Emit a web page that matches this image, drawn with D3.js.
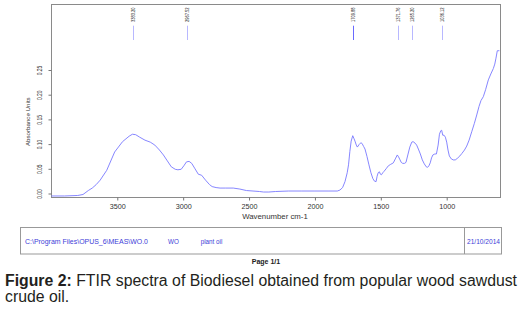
<!DOCTYPE html>
<html><head><meta charset="utf-8">
<script src="https://cdn.jsdelivr.net/npm/d3@7"></script>
<style>html,body{margin:0;padding:0;background:#fff;}svg{display:block;}</style>
</head><body>
<svg id="c" width="520" height="309"></svg>
<script>
const wavenumbers = [4000,3900,3800,3760,3720,3690,3660,3630,3580,3520,3460,3410,3385,3360,3330,3290,3250,3215,3180,3150,3120,3090,3060,3040,3015,2995,2975,2955,2935,2910,2885,2860,2830,2800,2780,2750,2720,2680,2620,2570,2520,2470,2420,2390,2350,2300,2200,2100,2000,1900,1830,1810,1790,1772,1755,1745,1735,1725,1713,1705,1696,1686,1678,1665,1650,1640,1630,1620,1605,1590,1575,1560,1548,1536,1528,1520,1511,1503,1495,1485,1475,1460,1443,1425,1405,1390,1375,1365,1354,1345,1334,1320,1309,1295,1280,1265,1255,1240,1228,1215,1200,1185,1170,1155,1145,1135,1125,1115,1105,1090,1078,1065,1055,1045,1038,1030,1020,1010,1000,990,980,965,950,935,920,900,885,865,848,830,810,790,772,755,740,722,705,684,665,646,635,626,616,600];
const absorbance = [-0.005,-0.005,-0.004,-0.002,0.006,0.011,0.018,0.027,0.047,0.084,0.105,0.116,0.120,0.119,0.114,0.108,0.104,0.098,0.088,0.078,0.066,0.054,0.049,0.048,0.049,0.056,0.064,0.065,0.061,0.050,0.039,0.037,0.027,0.018,0.014,0.012,0.011,0.011,0.011,0.009,0.006,0.005,0.004,0.003,0.003,0.004,0.005,0.005,0.005,0.005,0.005,0.007,0.012,0.024,0.042,0.058,0.085,0.106,0.117,0.112,0.106,0.098,0.094,0.099,0.103,0.100,0.095,0.090,0.075,0.058,0.042,0.030,0.025,0.024,0.035,0.042,0.044,0.039,0.038,0.042,0.045,0.050,0.056,0.059,0.062,0.070,0.078,0.074,0.068,0.063,0.061,0.061,0.063,0.078,0.094,0.104,0.105,0.102,0.098,0.090,0.080,0.068,0.060,0.054,0.053,0.056,0.062,0.072,0.078,0.080,0.080,0.098,0.120,0.127,0.128,0.118,0.118,0.114,0.104,0.088,0.076,0.070,0.068,0.068,0.071,0.076,0.081,0.088,0.096,0.108,0.125,0.142,0.159,0.176,0.188,0.196,0.210,0.230,0.242,0.253,0.262,0.274,0.289,0.289];
const xTicks = [3500,3000,2500,2000,1500,1000];
const yTicks = [0,0.05,0.10,0.15,0.20,0.25];
const peakPositions = [3383.20,2967.52,1709.88,1371.76,1265.20,1036.12];
const peakLabels = ["3383.20","2967.52","1709.88","1371.76","1265.20","1036.12"];
const peakStrong = [false,false,true,false,false,false];
const xLabel = "Wavenumber cm-1";
const yLabel = "Absorbance Units";
const footerPath = "C:\\Program Files\\OPUS_6\\MEAS\\WO.0";
const footerName = "WO";
const footerDesc = "plant oil";
const footerDate = "21/10/2014";
const pageText = "Page 1/1";
const captionBold = "Figure 2:";
const captionLine1 = "FTIR spectra of Biodiesel obtained from popular wood sawdust";
const captionLine2 = "crude oil.";

const svg = d3.select("#c");
const FONT = "'Liberation Sans', Arial, sans-serif";
const frame = {x0:51, x1:500, y0:4, y1:197};
const x = d3.scaleLinear().domain([4000,600]).range([51.4,499.4]);
const y = d3.scaleLinear().domain([0,0.25]).range([193.5,70]);

// frame
svg.append("rect").attr("x",frame.x0+0.5).attr("y",frame.y0+0.5)
  .attr("width",frame.x1-frame.x0).attr("height",frame.y1-frame.y0)
  .attr("fill","none").attr("stroke","#8a8a8a").attr("stroke-width",1);

// x axis
const gx = svg.append("g").attr("transform",`translate(0,${frame.y1+0.5})`)
  .call(d3.axisBottom(x).tickValues(xTicks).tickSize(3).tickPadding(4).tickFormat(d3.format("d")));
gx.select(".domain").remove();
gx.selectAll("line").attr("stroke","#777");
gx.selectAll("text").attr("font-family",FONT).attr("font-size",7).attr("fill","#333")
  .attr("textLength",16).attr("lengthAdjust","spacingAndGlyphs");

// y axis
const gy = svg.append("g").attr("transform",`translate(${frame.x0+0.5},0)`)
  .call(d3.axisLeft(y).tickValues(yTicks).tickSize(3).tickFormat(d3.format(".2f")));
gy.select(".domain").remove();
gy.selectAll("line").attr("stroke","#777");
gy.selectAll("text").attr("font-family",FONT).attr("font-size",7.5).attr("fill","#333")
  .attr("text-anchor","middle").attr("x",null).attr("dy",null)
  .attr("transform","translate(-12,0) rotate(-90)")
  .attr("y",0).attr("dy","0.35em")
  .attr("textLength",9.5).attr("lengthAdjust","spacingAndGlyphs");

// axis labels
svg.append("text").attr("x",275).attr("y",218.5).attr("text-anchor","middle")
  .attr("font-family",FONT).attr("font-size",7.8).attr("fill","#333").text(xLabel);
svg.append("text").attr("transform","translate(29.5,121.7) rotate(-90)").attr("text-anchor","middle")
  .attr("font-family",FONT).attr("font-size",6.2).attr("fill","#333").text(yLabel);

// spectrum
const data = wavenumbers.map((w,i)=>({w, a:absorbance[i]}));
svg.append("path").datum(data)
  .attr("d", d3.line().x(d=>x(d.w)).y(d=>y(d.a)))
  .attr("fill","none").attr("stroke","#7878ff").attr("stroke-width",0.9);

// peak markers
peakPositions.forEach((p,i)=>{
  const px = Math.round(x(p)) + 0.5;
  svg.append("line").attr("x1",px).attr("x2",px).attr("y1",25.7).attr("y2",40)
    .attr("stroke", peakStrong[i] ? "#6a6aff" : "#b8b8ff").attr("stroke-width",1);
  svg.append("text").attr("transform",`translate(${px+1.5},22) rotate(-90)`)
    .attr("text-anchor","start").attr("font-family",FONT).attr("font-size",4.6)
    .attr("fill","#222").attr("textLength",14.5).attr("lengthAdjust","spacingAndGlyphs")
    .text(peakLabels[i]);
});

// footer box
svg.append("rect").attr("x",20.5).attr("y",227.5).attr("width",481).attr("height",26.5)
  .attr("fill","none").attr("stroke","#999").attr("stroke-width",1);
svg.append("line").attr("x1",464.5).attr("x2",464.5).attr("y1",227.5).attr("y2",254)
  .attr("stroke","#999").attr("stroke-width",1);
const blue = "#4040d8";
[[footerPath,25,123],[footerName,168,null],[footerDesc,200.7,null],[footerDate,467,33]].forEach(([t,tx,len])=>{
  const el = svg.append("text").attr("x",tx).attr("y",243.8).attr("font-family",FONT)
    .attr("font-size",6.3).attr("fill",blue).text(t);
  if(len) el.attr("textLength",len).attr("lengthAdjust","spacingAndGlyphs");
});
svg.append("text").attr("x",266).attr("y",263.5).attr("text-anchor","middle")
  .attr("font-family",FONT).attr("font-size",7).attr("font-weight","bold").attr("fill","#222").text(pageText);

// caption (justified line 1)
const capSize = 15.8, capColor = "#231f20";
const words = [captionBold].concat(captionLine1.split(" "));
const capX0 = 5, capX1 = 517;
const nodes = words.map((w,i)=>svg.append("text").attr("y",285.5)
  .attr("font-family",FONT).attr("font-size",capSize).attr("fill",capColor)
  .attr("font-weight", i===0 ? "bold" : "normal").text(w));
const widths = nodes.map(n=>n.node().getComputedTextLength());
const gap = (capX1-capX0 - d3.sum(widths)) / (words.length-1);
let cx = capX0;
nodes.forEach((n,i)=>{ n.attr("x",cx); cx += widths[i] + gap; });
svg.append("text").attr("x",capX0).attr("y",302).attr("font-family",FONT)
  .attr("font-size",capSize).attr("fill",capColor).text(captionLine2);
</script>
</body></html>
